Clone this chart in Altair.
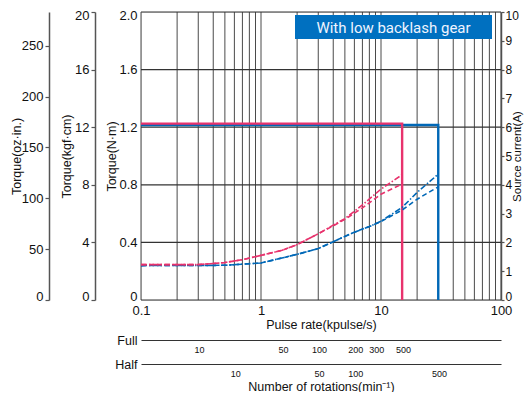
import altair as alt
import pandas as pd

# ---------------- data ----------------
grid_x = [0.1, 0.2, 0.3, 0.4, 0.5, 0.6, 0.7, 0.8, 0.9,
          1, 2, 3, 4, 5, 6, 7, 8, 9,
          10, 20, 30, 40, 50, 60, 70, 80, 90, 100]
grid_y = [0, 0.4, 0.8, 1.2, 1.6, 2.0]

red_lim_x = [0.1, 15, 15]
red_lim_y = [1.225, 1.225, 0]
blue_lim_x = [0.1, 30, 30]
blue_lim_y = [1.215, 1.215, 0]

red_x = [0.1, 0.3, 0.5, 0.7, 1, 1.5, 2, 3, 4, 5, 7, 10, 15]
red_upper = [0.246, 0.246, 0.26, 0.28, 0.31, 0.345, 0.385, 0.46, 0.52, 0.565, 0.66, 0.77, 0.87]
red_lower = [0.246, 0.246, 0.26, 0.28, 0.31, 0.345, 0.385, 0.46, 0.515, 0.56, 0.64, 0.735, 0.805]

blue_x = [0.1, 0.5, 1, 2, 3, 4, 6, 8, 10, 15, 20, 30]
blue_upper = [0.239, 0.241, 0.257, 0.317, 0.357, 0.405, 0.471, 0.51, 0.547, 0.643, 0.747, 0.874]
blue_lower = [0.239, 0.241, 0.257, 0.317, 0.357, 0.405, 0.471, 0.51, 0.545, 0.625, 0.70, 0.786]

nm_ticks = [0, 0.4, 0.8, 1.2, 1.6, 2.0]
kgf_ticks = [0, 4, 8, 12, 16, 20]
oz_ticks = [0, 50, 100, 150, 200, 250]
amp_ticks = [0, 1, 2, 3, 4, 5, 6, 7, 8, 9, 10]
pulse_ticks = [0.1, 1, 10, 100]
full_ticks = [10, 50, 100, 200, 300, 500]
half_ticks = [10, 50, 100, 500]

legend_text = "With low backlash gear"

RED = "#e8336d"
BLUE = "#0068b7"
BOX = "#0070c0"
FONT = "Liberation Sans"

W, H = 360, 288


def edge_offset(top):
    # nudge the end labels inward so they stay inside the picture
    return {"condition": [
        {"test": "datum.value >= %g" % top, "value": 3.5},
        {"test": "datum.value <= 0", "value": -3.5}],
        "value": 0}


xs = alt.Scale(type="log", domain=[0.1, 100], nice=False)
ys = alt.Scale(domain=[0, 2], nice=False, zero=False)

main_x_axis = alt.Axis(
    orient="bottom", values=pulse_ticks, format="~g", grid=False,
    ticks=False, domain=False, labelFontSize=13, labelPadding=4,
    labelFlush=False, labelColor="#111", labelFont=FONT,
    title="Pulse rate(kpulse/s)", titleFontSize=12.5, titleFontWeight="normal",
    titleFont=FONT, titleColor="#111",
    titleX=W / 2, titleY=24, titleAlign="center", titleBaseline="middle")

main_y_axis = alt.Axis(
    orient="left", values=nm_ticks,
    labelExpr="datum.value == 0 ? '0' : format(datum.value, '.1f')",
    labelOffset=edge_offset(2),
    grid=False, ticks=False, domain=False, labelFontSize=13, labelPadding=4,
    labelColor="#111", labelFont=FONT,
    title="Torque(N·m)", titleFontSize=12.5, titleFontWeight="normal",
    titleFont=FONT, titleColor="#111",
    titleX=-30, titleY=H / 2, titleAngle=270, titleAlign="center",
    titleBaseline="middle")

# ---------------- inner (shared) layers ----------------
vgrid = alt.Chart(pd.DataFrame({"x": grid_x})).mark_rule(
    color="#4a4a4a", strokeWidth=1
).encode(x=alt.X("x:Q", scale=xs, axis=main_x_axis))

hgrid = alt.Chart(pd.DataFrame({"y": grid_y})).mark_rule(
    color="#333333", strokeWidth=1.2
).encode(y=alt.Y("y:Q", scale=ys, axis=main_y_axis))


def path_layer(xv, yv, color, width, dash=None):
    df = pd.DataFrame({"x": xv, "y": yv, "o": list(range(len(xv)))})
    kw = dict(color=color, strokeWidth=width, clip=True)
    if dash:
        kw["strokeDash"] = dash
    return alt.Chart(df).mark_line(**kw).encode(
        x=alt.X("x:Q", scale=xs, axis=main_x_axis),
        y=alt.Y("y:Q", scale=ys, axis=main_y_axis),
        order="o:Q",
    )


blue_lim = path_layer(blue_lim_x, blue_lim_y, BLUE, 2.4)
red_lim = path_layer(red_lim_x, red_lim_y, RED, 2.4)
blue_up = path_layer(blue_x, blue_upper, BLUE, 1.6, [6, 2, 1.5, 2])
blue_lo = path_layer(blue_x, blue_lower, BLUE, 1.6, [5, 3])
red_up = path_layer(red_x, red_upper, RED, 1.6, [6, 2, 1.5, 2])
red_lo = path_layer(red_x, red_lower, RED, 1.6, [5, 3])

one = pd.DataFrame({"t": [legend_text]})
box = alt.Chart(one).mark_rect(color=BOX).encode(
    x=alt.value(154), x2=alt.value(351), y=alt.value(3), y2=alt.value(27)
)
box_text = alt.Chart(one).mark_text(
    color="#eef4ff", fontSize=15, font="Roboto", align="center", baseline="middle"
).encode(x=alt.value(252.5), y=alt.value(15.5), text="t:N")

inner = alt.layer(vgrid, hgrid, blue_lim, red_lim, blue_lo, blue_up, red_lo, red_up, box, box_text)


# ---------------- extra axes ----------------
def y_axis_layer(ticks, domain, orient, offset, title, title_x,
                 title_size=12.5, label_size=13, tick_size=4, label_pad=2):
    top = max(domain)
    return alt.Chart(pd.DataFrame({"v": ticks})).mark_point(opacity=0).encode(
        y=alt.Y("v:Q", scale=alt.Scale(domain=domain, nice=False, zero=False),
                axis=alt.Axis(
                    orient=orient, offset=offset, values=ticks, grid=False,
                    domain=True, domainColor="#555", domainWidth=1.5,
                    ticks=True, tickColor="#555", tickSize=tick_size, tickWidth=1.2,
                    labelFontSize=label_size, labelPadding=label_pad,
                    labelColor="#111", labelFont=FONT,
                    labelOffset=edge_offset(top),
                    title=title, titleFontSize=title_size, titleFontWeight="normal",
                    titleFont=FONT, titleColor="#111",
                    titleX=title_x, titleY=H / 2, titleAngle=270,
                    titleAlign="center", titleBaseline="middle"))
    )


kgf_axis = y_axis_layer(kgf_ticks, [0, 20], "left", 46, "Torque(kgf·cm)", -29)
oz_axis = y_axis_layer(oz_ticks, [0, 283.2], "left", 92, "Torque(oz·in.)", -33)
amp_axis = y_axis_layer(amp_ticks, [0, 10], "right", 0, "Source current(A)", 16,
                        title_size=11.5, label_size=12, tick_size=3, label_pad=1)


def x_axis_layer(ticks, domain, offset, title, title_x, title_y, align, show_line=True):
    return alt.Chart(pd.DataFrame({"v": ticks})).mark_point(opacity=0).encode(
        x=alt.X("v:Q", scale=alt.Scale(type="log", domain=domain, nice=False),
                axis=alt.Axis(
                    orient="bottom", offset=offset, values=ticks, grid=False,
                    domain=show_line, domainColor="#333", domainWidth=1.2,
                    ticks=False, labels=show_line, labelFontSize=9, labelPadding=5,
                    labelColor="#111", labelFont=FONT, labelFlush=False,
                    title=title, titleFontSize=12.5, titleFontWeight="normal",
                    titleFont=FONT, titleColor="#111",
                    titleX=title_x, titleY=title_y, titleAngle=0,
                    titleAlign=align, titleBaseline="middle"))
    )


full_axis = x_axis_layer(full_ticks, [0.1 / 0.0305, 100 / 0.0305], 40, "Full", -4, 0, "right")
half_axis = x_axis_layer(half_ticks, [0.1 / 0.061, 100 / 0.061], 64, "Half", -4, 0, "right")
rot_axis = x_axis_layer(half_ticks, [0.1 / 0.061, 100 / 0.061], 64,
                        "Number of rotations(min⁻¹)", W / 2, 22, "center", show_line=False)

chart = alt.layer(
    inner, kgf_axis, oz_axis, amp_axis, full_axis, half_axis, rot_axis
).resolve_scale(
    x="independent", y="independent"
).properties(
    width=W, height=H,
    autosize=alt.AutoSizeParams(type="none"),
    padding={"left": 133, "top": 4, "right": 23, "bottom": 92},
).configure_view(
    stroke="#333", strokeWidth=1.2
).configure(
    background="white"
)

chart.save("out.html", embed_options={"renderer": "svg", "actions": False})
